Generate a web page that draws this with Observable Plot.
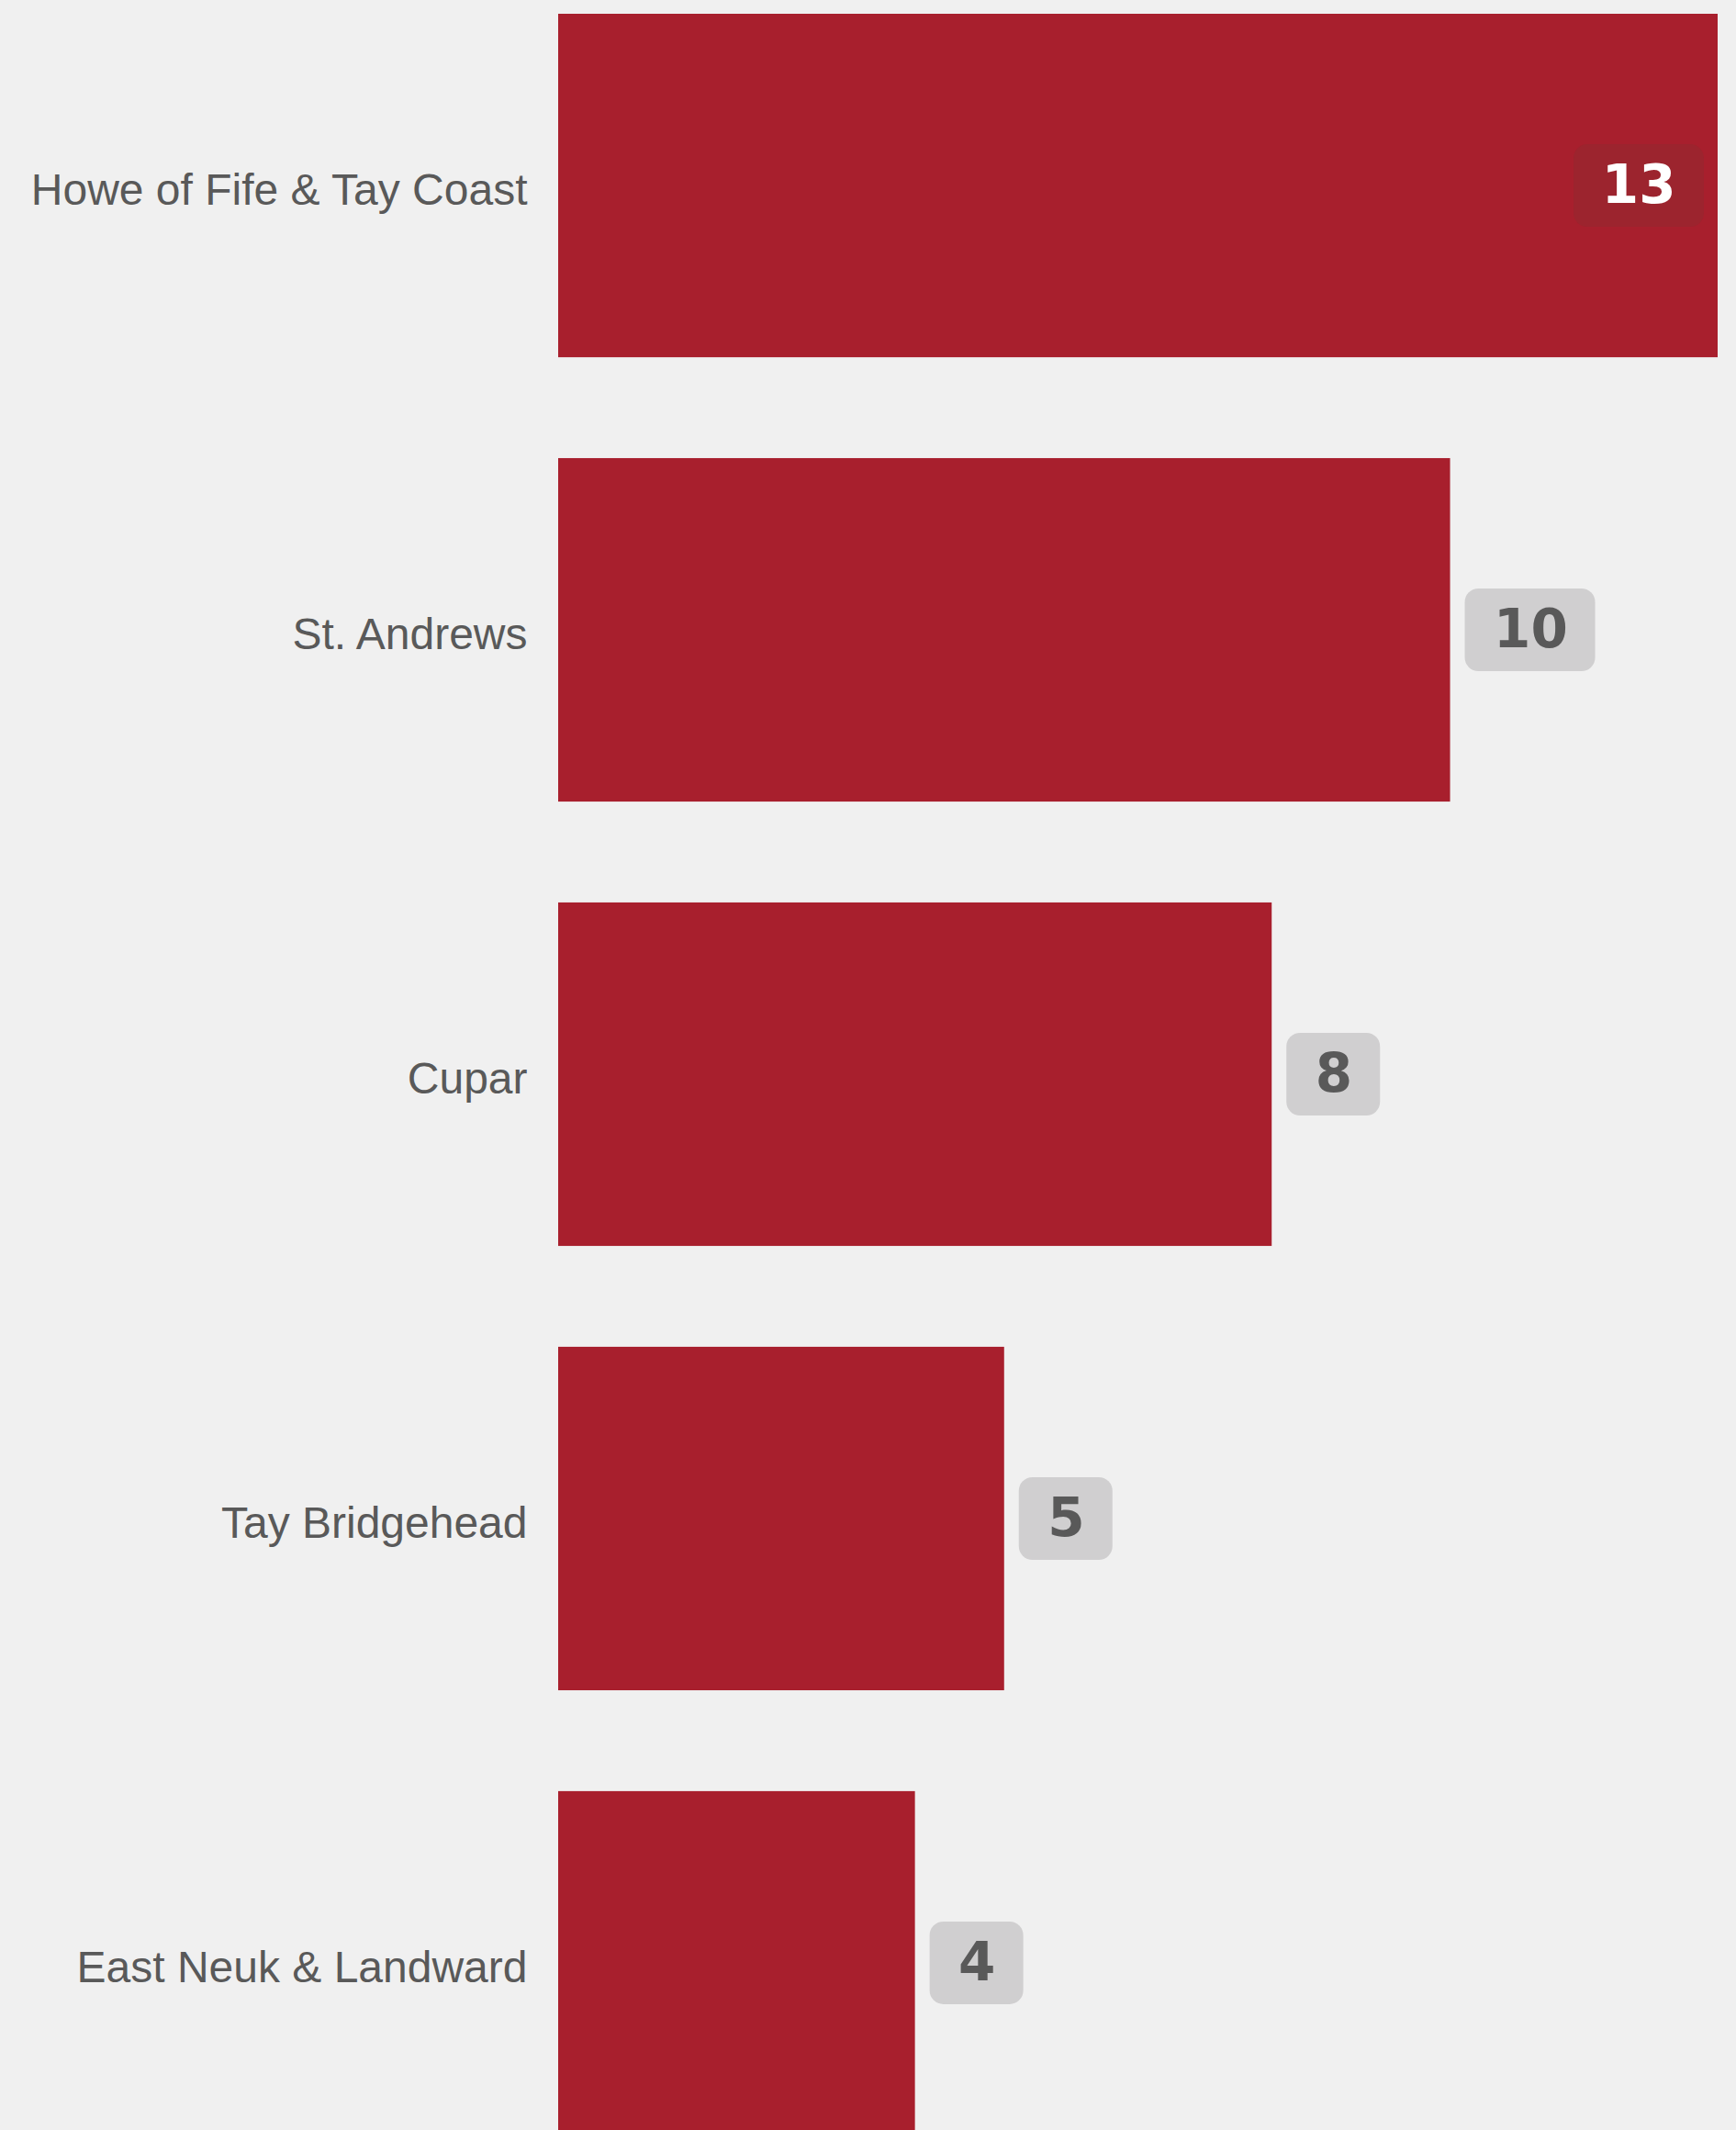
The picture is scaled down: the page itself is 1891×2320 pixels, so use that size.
<!DOCTYPE html>
<html>
<head>
<meta charset="utf-8">
<script src="https://cdn.jsdelivr.net/npm/d3@7"></script>
<script src="https://cdn.jsdelivr.net/npm/@observablehq/plot@0.6"></script>
<style>
  html, body { margin: 0; padding: 0; background: #f0f0f0; overflow: hidden; }
  #chart svg { display: block; }
</style>
</head>
<body>
<div id="chart"></div>
<script>
const categories = ["Howe of Fife & Tay Coast", "St. Andrews", "Cupar", "Tay Bridgehead", "East Neuk & Landward"];
const values = [13, 10, 8, 5, 4];

const maxValue = d3.max(values);
const data = categories.map((name, i) => ({
  name,
  value: values[i],
  digits: String(values[i]).length,
  inside: values[i] === maxValue
}));

const BAR = "#a81f2d";
const BADGE_OUT = "#d0cfd0";
const BADGE_IN = "#9c242e";
const TEXT = "#595959";
const GAP = 16, PAD = 31, DIGIT = 40;
const badgeW = (n) => 2 * PAD + DIGIT * n;

const outside = data.filter(d => !d.inside);
const inside = data.filter(d => d.inside);

const badgeMarks = [];
for (const n of [1, 2]) {
  const sub = outside.filter(d => d.digits === n);
  if (!sub.length) continue;
  badgeMarks.push(Plot.barX(sub, {
    x1: "value", x2: "value", y: "name",
    insetLeft: GAP, insetRight: -(GAP + badgeW(n)),
    insetTop: 142, insetBottom: 142, rx: 15, fill: BADGE_OUT
  }));
}
for (const n of [1, 2]) {
  const sub = inside.filter(d => d.digits === n);
  if (!sub.length) continue;
  badgeMarks.push(Plot.barX(sub, {
    x1: "value", x2: "value", y: "name",
    insetLeft: -(15 + badgeW(n)), insetRight: 15,
    insetTop: 142, insetBottom: 142, rx: 15, fill: BADGE_IN
  }));
}

const chart = Plot.plot({
  width: 1891,
  height: 2320,
  marginLeft: 608,
  marginRight: 20,
  marginTop: 15,
  marginBottom: 0,
  style: { background: "#f0f0f0", fontFamily: "'Liberation Sans', Arial, sans-serif", color: TEXT, overflow: "hidden" },
  x: { domain: [0, 13], axis: null },
  y: { domain: categories, range: [15, 2325], paddingInner: 0.227, paddingOuter: 0, round: false, label: null },
  marks: [
    Plot.barX(data, { x: "value", y: "name", fill: BAR }),
    ...badgeMarks,
    Plot.text(outside, {
      x: "value", y: "name", text: d => String(d.value),
      dx: GAP + PAD, textAnchor: "start", fill: TEXT,
      fontSize: 58, fontWeight: "bold", fontFamily: "'DejaVu Sans', sans-serif"
    }),
    Plot.text(inside, {
      x: "value", y: "name", text: d => String(d.value),
      dx: -(15 + PAD), textAnchor: "end", fill: "#ffffff",
      fontSize: 58, fontWeight: "bold", fontFamily: "'DejaVu Sans', sans-serif"
    }),
    Plot.axisY({ tickSize: 0, tickPadding: 34, fontSize: 48, dy: 5, fill: TEXT, fontFamily: "'Liberation Sans', Arial, sans-serif", label: null })
  ]
});
document.getElementById("chart").appendChild(chart);
</script>
</body>
</html>
